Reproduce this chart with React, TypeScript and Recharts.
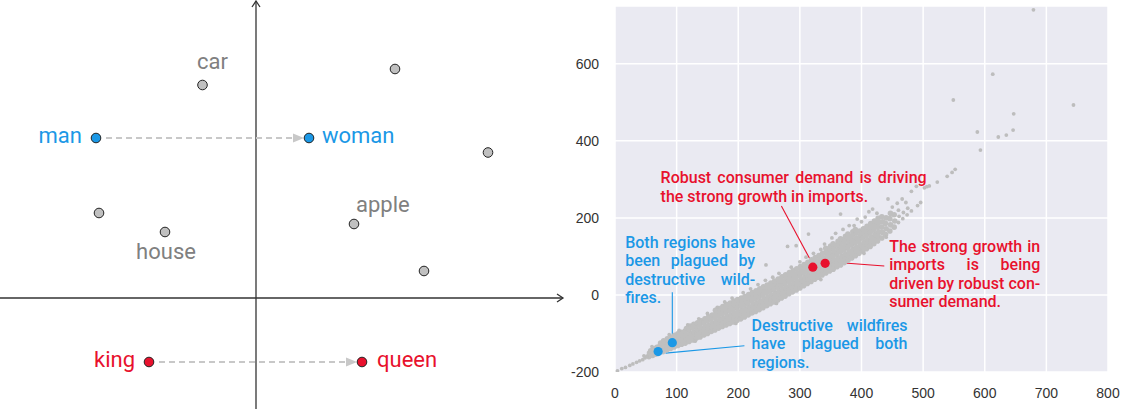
import React from 'react';
import { ScatterChart, Scatter, XAxis, YAxis, CartesianGrid, ReferenceLine, ReferenceDot } from 'recharts';

// ---------- left panel: toy word-embedding space (arbitrary units) ----------
const wordNames = ['car', '', 'man', 'woman', '', '', 'house', 'apple', '', 'king', 'queen'];
const wordX = [-5.35, 13.9, -16.0, 5.3, 23.2, -15.7, -9.1, 9.8, 16.8, -10.7, 10.6];
const wordY = [21.3, 22.9, 16.0, 16.0, 14.55, 8.5, 6.6, 7.4, 2.7, -6.4, -6.4];
const wordGroup = ['other', 'other', 'gender', 'gender', 'other', 'other', 'other', 'other', 'other', 'royal', 'royal'];
const analogyPairs = [[2, 3], [9, 10]];
const embedXDomain = [-25.6, 31.4];
const embedYDomain = [-11.1, 29.8];
const axisXEnd = 30.7;

// ---------- right panel: sentence similarity scatter ----------
const xTicks = [0, 100, 200, 300, 400, 500, 600, 700, 800];
const yTicks = [-200, 0, 200, 400, 600];
const xDomain = [0, 800];
const yDomain = [-200, 750];

// dense core of the cloud
const cloudDense: [number, number][] = [
  [55, -160], [56, -151], [58, -145], [61, -157], [62, -148], [63, -140],
  [66, -154], [67, -145], [68, -136], [71, -150], [72, -141], [73, -132], [74, -125],
  [78, -147], [79, -137], [80, -128], [79, -119], [84, -142], [85, -133], [86, -123], [85, -114],
  [90, -139], [91, -129], [92, -119], [91, -110], [96, -135], [97, -125], [98, -115], [97, -105],
  [102, -131], [103, -121], [104, -111], [102, -101], [108, -128], [109, -118], [110, -107], [108, -97],
  [114, -125], [115, -114], [116, -104], [114, -94], [116, -87],
  [120, -121], [121, -111], [122, -100], [120, -90], [122, -81],
  [126, -117], [127, -106], [128, -96], [126, -85], [128, -76],
  [132, -112], [133, -102], [134, -91], [132, -81], [134, -72],
  [138, -109], [139, -98], [140, -87], [138, -76], [140, -67],
  [144, -104], [145, -93], [146, -83], [144, -72], [146, -62],
  [150, -100], [151, -89], [152, -78], [150, -67], [152, -57],
  [156, -95], [157, -84], [158, -73], [156, -62], [158, -52],
  [162, -91], [163, -80], [164, -69], [162, -58], [164, -47], [163, -40],
  [168, -86], [169, -75], [170, -64], [168, -53], [170, -43], [169, -35],
  [174, -82], [175, -71], [176, -60], [174, -49], [176, -38], [175, -30],
  [180, -78], [181, -67], [182, -56], [180, -45], [182, -34], [181, -25],
  [186, -74], [187, -63], [188, -52], [186, -41], [188, -30], [187, -21],
  [192, -70], [193, -59], [194, -48], [192, -37], [194, -26], [193, -16],
  [198, -66], [199, -55], [200, -44], [198, -33], [200, -22], [199, -12],
  [204, -62], [205, -51], [206, -40], [204, -29], [206, -18], [205, -8],
  [210, -57], [211, -47], [212, -36], [210, -25], [212, -14], [211, -4],
  [216, -52], [217, -42], [218, -31], [216, -20], [218, -9], [217, 1],
  [222, -47], [223, -37], [224, -26], [222, -15], [224, -4], [223, 6],
  [228, -43], [229, -32], [230, -21], [228, -10], [230, 1], [229, 11],
  [234, -38], [235, -27], [236, -16], [234, -5], [236, 6], [235, 16],
  [240, -33], [241, -22], [242, -11], [240, 0], [242, 11], [241, 21],
  [246, -28], [247, -17], [248, -6], [246, 5], [248, 16], [247, 26],
  [252, -23], [253, -12], [254, -1], [252, 10], [254, 21], [253, 31],
  [258, -18], [259, -7], [260, 4], [258, 15], [260, 26], [259, 36],
  [264, -13], [265, -2], [266, 9], [264, 20], [266, 31], [265, 41],
  [270, -8], [271, 3], [272, 14], [270, 25], [272, 36], [271, 47],
  [276, -3], [277, 8], [278, 19], [276, 30], [278, 41], [277, 52],
  [282, 3], [283, 14], [284, 25], [282, 36], [284, 47], [283, 58],
  [288, 8], [289, 19], [290, 30], [288, 41], [290, 52], [289, 63],
  [294, 13], [295, 24], [296, 35], [294, 46], [296, 57], [295, 68],
  [300, 18], [301, 29], [302, 40], [300, 51], [302, 62], [301, 74],
  [306, 24], [307, 35], [308, 46], [306, 57], [308, 68], [307, 79],
  [312, 30], [313, 41], [314, 52], [312, 63], [314, 74], [313, 85],
  [318, 35], [319, 46], [320, 57], [318, 68], [320, 79], [319, 91],
  [324, 41], [325, 52], [326, 63], [324, 74], [326, 85], [325, 97],
  [330, 46], [331, 57], [332, 68], [330, 79], [332, 90], [331, 102],
  [336, 52], [337, 63], [338, 74], [336, 85], [338, 96], [337, 108],
  [342, 57], [343, 68], [344, 79], [342, 90], [344, 101], [343, 113], [342, 121],
  [348, 62], [349, 73], [350, 84], [348, 95], [350, 106], [349, 118], [350, 127],
  [354, 67], [355, 78], [356, 89], [354, 100], [356, 112], [355, 124], [354, 133],
  [360, 73], [361, 84], [362, 95], [360, 106], [362, 118], [361, 130], [362, 139],
  [366, 78], [367, 89], [368, 100], [366, 112], [368, 124], [367, 136], [366, 146],
  [372, 84], [373, 95], [374, 106], [372, 118], [374, 130], [373, 142], [374, 152],
  [378, 90], [379, 101], [380, 112], [378, 124], [380, 136], [379, 148], [378, 158],
  [384, 96], [385, 107], [386, 118], [384, 130], [386, 142], [385, 154], [386, 164],
  [390, 102], [391, 113], [392, 124], [390, 136], [392, 148], [391, 160], [390, 170],
  [396, 108], [397, 119], [398, 130], [396, 142], [398, 154], [397, 166],
  [402, 114], [403, 125], [404, 136], [402, 148], [404, 160], [403, 172],
  [408, 120], [409, 131], [410, 143], [408, 155], [410, 167], [409, 178],
  [414, 126], [415, 138], [416, 150], [414, 162], [416, 174], [415, 185],
  [420, 133], [421, 145], [422, 157], [420, 169], [422, 181], [421, 192],
  [426, 140], [427, 152], [428, 164], [426, 176], [428, 188], [427, 199],
  [433, 148], [434, 162], [433, 176], [434, 190], [433, 203],
  [439, 157], [440, 172], [439, 186], [440, 200],
  [446, 166], [447, 182], [446, 198], [447, 212],
  [453, 176], [454, 192], [453, 208],
];

// sparse tail, strays around the band and outliers
const cloudLoose: [number, number][] = [
  [4, -197], [11, -191], [17, -188], [24, -183], [29, -179], [35, -175], [40, -171], [45, -168], [49, -163], [52, -159], [47, -158],
  [460, 188], [461, 204], [460, 220], [467, 198], [468, 214], [474, 208], [475, 225], [481, 218],
  [60, -134], [88, -103], [104, -92], [118, -78], [136, -62], [150, -48], [166, -32], [178, -18], [190, -8],
  [208, 6], [220, 16], [232, 27], [244, 38], [245, 78], [256, 46], [266, 56], [280, 126], [286, 72], [294, 128],
  [300, 86], [310, 98], [314, 158], [322, 108], [334, 118], [340, 132], [352, 148], [358, 160], [366, 210],
  [370, 170], [380, 180], [388, 180], [393, 197], [400, 190], [406, 202], [412, 216], [418, 223], [425, 212],
  [443, 249], [450, 228], [458, 238], [466, 249], [472, 240], [481, 269], [489, 282], [491, 232], [496, 240],
  [502, 278], [506, 281], [510, 283], [523, 293], [539, 308], [547, 318], [552, 326],
  [130, -120], [196, -74], [262, -22], [334, 40], [404, 108], [440, 150],
  [549, 506], [613, 573], [679, 740], [744, 493], [647, 470], [588, 423], [622, 410], [635, 415], [646, 428], [593, 376],
];

const bluePoints: [number, number][] = [[70, -147], [93, -124]];
const redPoints: [number, number][] = [[321, 72], [341, 82]];

const leaderColor = ['red', 'red', 'blue', 'blue'];
const leaderFrom: [number, number][] = [[270, 231], [356, 85], [93, 7], [82, -151]];
const leaderTo: [number, number][] = [[318, 88], [437, 75], [93, -104], [210, -132]];

const noteColor = ['red', 'red', 'blue', 'blue'];
const noteAt: [number, number][] = [[74, 290], [445, 112], [16.5, 122], [221.5, -93]];
const noteWidth = [266, 151, 130, 156];
const noteLines = [
  ['Robust consumer demand is driving', 'the strong growth in imports.'],
  ['The strong growth in', 'imports is being', 'driven by robust con-', 'sumer demand.'],
  ['Both regions have', 'been plagued by', 'destructive wild-', 'fires.'],
  ['Destructive wildfires', 'have plagued both', 'regions.'],
];

// ---------- styles ----------
const RED = '#e8112d';
const BLUE = '#1b98e6';
const groupStyle: Record<string, { fill: string; text: string }> = {
  other: { fill: '#c0c0c0', text: '#808080' },
  gender: { fill: BLUE, text: BLUE },
  royal: { fill: RED, text: RED },
};
const labelStyle: Record<string, { dx: number; dy: number; anchor: 'start' | 'middle' | 'end' }> = {
  car: { dx: 10, dy: -16, anchor: 'middle' },
  man: { dx: -14, dy: 5, anchor: 'end' },
  woman: { dx: 13, dy: 5, anchor: 'start' },
  house: { dx: 1, dy: 27, anchor: 'middle' },
  apple: { dx: 2, dy: -12, anchor: 'start' },
  king: { dx: -14, dy: 5, anchor: 'end' },
  queen: { dx: 15, dy: 5, anchor: 'start' },
};
const tickStyle = { fontSize: 14, fill: '#333', fontFamily: '"Liberation Sans", Arial, sans-serif' };
const NOTE_FONT = '500 16px Roboto';

const words = wordNames.map((name, i) => ({ x: wordX[i], y: wordY[i], name, group: wordGroup[i] }));
const denseData = cloudDense.map(([x, y]) => ({ x, y }));
const looseData = cloudLoose.map(([x, y]) => ({ x, y }));
const blueData = bluePoints.map(([x, y]) => ({ x, y }));
const redData = redPoints.map(([x, y]) => ({ x, y }));

let measureCtx: CanvasRenderingContext2D | null = null;
function textWidth(s: string) {
  if (!measureCtx) measureCtx = document.createElement('canvas').getContext('2d');
  if (!measureCtx) return s.length * 8;
  measureCtx.font = NOTE_FONT;
  return measureCtx.measureText(s).width;
}

function renderWord(p: any) {
  const { cx, cy, payload } = p;
  const st = groupStyle[payload.group];
  const lab = labelStyle[payload.name];
  return (
    <g>
      <circle cx={cx} cy={cy} r={4.8} fill={st.fill} stroke="#222" strokeWidth={1} />
      {lab && (
        <text x={cx + lab.dx} y={cy + lab.dy} textAnchor={lab.anchor} fill={st.text} fontSize={22} fontFamily="Roboto, sans-serif">
          {payload.name}
        </text>
      )}
    </g>
  );
}

function AxisArrow(p: any) {
  const { x1, y1, x2, y2 } = p;
  if (Math.abs(x1 - x2) < 1) {
    const top = Math.min(y1, y2) + 1;
    const bottom = Math.max(y1, y2);
    return (
      <g stroke="#333" strokeWidth={1.3} fill="none">
        <line x1={x1} y1={top} x2={x1} y2={bottom} />
        <path d={`M${x1 - 4},${top + 6} L${x1},${top} L${x1 + 4},${top + 6}`} />
      </g>
    );
  }
  const left = Math.min(x1, x2);
  const right = Math.max(x1, x2);
  return (
    <g stroke="#333" strokeWidth={1.3} fill="none">
      <line x1={left} y1={y1} x2={right} y2={y1} />
      <path d={`M${right - 6},${y1 - 4} L${right},${y1} L${right - 6},${y1 + 4}`} />
    </g>
  );
}

function DashedArrow(p: any) {
  const { x1, y1, x2 } = p;
  const start = x1 + 10;
  const tip = x2 - 5;
  return (
    <g>
      <line x1={start} y1={y1} x2={tip - 10} y2={y1} stroke="#c8c8c8" strokeWidth={2} strokeDasharray="6 4" />
      <polygon points={`${tip},${y1} ${tip - 11},${y1 - 4.5} ${tip - 11},${y1 + 4.5}`} fill="#c8c8c8" />
    </g>
  );
}

function NoteBlock({ cx, cy, lines, width, color }: any) {
  return (
    <g fill={color} fontFamily="Roboto, sans-serif" fontWeight={500} fontSize={16}>
      {lines.map((line: string, i: number) => {
        const y = cy + i * 18.4;
        const parts = line.split(' ');
        if (i === lines.length - 1 || parts.length < 2) {
          return <text key={i} x={cx} y={y}>{line}</text>;
        }
        const ws = parts.map(textWidth);
        const gap = (width - ws.reduce((a, b) => a + b, 0)) / (parts.length - 1);
        let x = cx;
        return (
          <g key={i}>
            {parts.map((w, j) => {
              const el = <text key={j} x={x} y={y}>{w}</text>;
              x += ws[j] + gap;
              return el;
            })}
          </g>
        );
      })}
    </g>
  );
}

const dot = (r: number, fill: string) => (p: any) => <circle cx={p.cx} cy={p.cy} r={r} fill={fill} />;

export default function App() {
  return (
    <div style={{ position: 'absolute', left: 0, top: 0, width: 1128, height: 409, background: '#fff' }}>
      <div style={{ position: 'absolute', left: 0, top: 0 }}>
        <ScatterChart width={570} height={409} margin={{ top: 0, right: 0, bottom: 0, left: 0 }}>
          <XAxis type="number" dataKey="x" domain={embedXDomain} hide allowDataOverflow />
          <YAxis type="number" dataKey="y" domain={embedYDomain} hide allowDataOverflow />
          <ReferenceLine segment={[{ x: embedXDomain[0], y: 0 }, { x: axisXEnd, y: 0 }]} shape={AxisArrow} />
          <ReferenceLine segment={[{ x: 0, y: embedYDomain[0] }, { x: 0, y: embedYDomain[1] }]} shape={AxisArrow} />
          {analogyPairs.map(([a, b], i) => (
            <ReferenceLine
              key={i}
              segment={[{ x: wordX[a], y: wordY[a] }, { x: wordX[b], y: wordY[b] }]}
              shape={DashedArrow}
            />
          ))}
          <Scatter data={words} shape={renderWord} isAnimationActive={false} />
        </ScatterChart>
      </div>
      <div style={{ position: 'absolute', left: 550, top: 0 }}>
        <ScatterChart width={578} height={409} margin={{ top: 6, right: 20, bottom: 0, left: 0 }}>
          <CartesianGrid fill="#eaeaf2" stroke="#fff" strokeWidth={1.5} />
          <XAxis
            type="number"
            dataKey="x"
            domain={xDomain}
            ticks={xTicks}
            allowDataOverflow
            axisLine={false}
            tickLine={false}
            tickMargin={10}
            height={37}
            tick={tickStyle}
          />
          <YAxis
            type="number"
            dataKey="y"
            domain={yDomain}
            ticks={yTicks}
            allowDataOverflow
            axisLine={false}
            tickLine={false}
            tickMargin={10}
            width={65}
            tick={tickStyle}
          />
          <Scatter data={denseData} shape={dot(2.8, '#bfbfbf')} isAnimationActive={false} />
          <Scatter data={looseData} shape={dot(1.9, '#bdbdbd')} isAnimationActive={false} />
          {leaderFrom.map((f, i) => (
            <ReferenceLine
              key={i}
              segment={[{ x: f[0], y: f[1] }, { x: leaderTo[i][0], y: leaderTo[i][1] }]}
              stroke={leaderColor[i] === 'red' ? RED : BLUE}
              strokeWidth={1.1}
            />
          ))}
          <Scatter data={blueData} shape={dot(4.6, BLUE)} isAnimationActive={false} />
          <Scatter data={redData} shape={dot(4.6, RED)} isAnimationActive={false} />
          {noteAt.map((pt, i) => (
            <ReferenceDot
              key={i}
              x={pt[0]}
              y={pt[1]}
              r={0}
              shape={(p: any) => (
                <NoteBlock
                  cx={p.cx}
                  cy={p.cy}
                  lines={noteLines[i]}
                  width={noteWidth[i]}
                  color={noteColor[i] === 'red' ? RED : BLUE}
                />
              )}
            />
          ))}
        </ScatterChart>
      </div>
    </div>
  );
}
